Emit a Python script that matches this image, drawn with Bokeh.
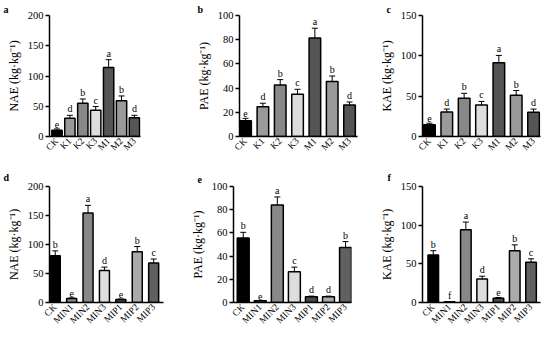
import math
from bokeh.plotting import figure
from bokeh.models import Range1d, FixedTicker, Whisker, TeeHead, ColumnDataSource
from bokeh.layouts import column, row
from bokeh.embed import file_html
from bokeh.resources import INLINE
from bokeh.core.properties import value

# ---------------- data ----------------
cats_top = ["CK", "K1", "K2", "K3", "M1", "M2", "M3"]
cats_bot = ["CK", "MIN1", "MIN2", "MIN3", "MIP1", "MIP2", "MIP3"]

nae_top = [10.5, 30, 55, 43.5, 114, 59, 31]
nae_top_err = [2, 5, 7, 6, 13, 8, 4]
nae_top_sig = ["e", "d", "b", "c", "a", "b", "d"]

pae_top = [13, 24.5, 42.5, 35, 81.5, 45.5, 26]
pae_top_err = [2, 3, 4.5, 4, 8, 4.5, 2.5]
pae_top_sig = ["e", "d", "b", "c", "a", "b", "d"]

kae_top = [14.5, 30.5, 47.5, 39, 91.5, 51, 30]
kae_top_err = [2, 3.5, 6, 4.5, 9, 6, 4]
kae_top_sig = ["e", "d", "b", "c", "a", "b", "d"]

nae_bot = [80.5, 7, 154.5, 55, 5, 87.5, 68]
nae_bot_err = [8.5, 1, 13, 6, 1, 9, 7]
nae_bot_sig = ["b", "e", "a", "d", "e", "b", "c"]

pae_bot = [55.5, 1.5, 84, 26.5, 5, 5, 47.5]
pae_bot_err = [5, 0, 7, 4, 0.5, 0.5, 5]
pae_bot_sig = ["b", "e", "a", "c", "d", "d", "b"]

kae_bot = [61.5, 1, 94, 30.5, 5.5, 67, 52]
kae_bot_err = [5.5, 0, 10, 3.5, 1, 7.5, 4.5]
kae_bot_sig = ["b", "f", "a", "d", "e", "b", "c"]

colors_top = ["#000000", "#9a9a9a", "#888888", "#dddddd", "#555555", "#9a9a9a", "#555555"]
colors_bot = ["#000000", "#888888", "#888888", "#dddddd", "#4a4a4a", "#aaaaaa", "#606060"]

SERIF = "Liberation Serif"


def panel(letter, cats, vals, errs, sigs, colors, ymax, ystep, ylab,
          xr, bw, width, height, bl, br, bt, bb, letter_off):
    n = len(cats)
    xs = list(range(n))
    p = figure(width=width, height=height, output_backend="svg", toolbar_location=None,
               x_range=Range1d(*xr), y_range=Range1d(0, ymax),
               min_border_left=bl, min_border_right=br, min_border_top=bt, min_border_bottom=bb)
    p.outline_line_color = None
    p.background_fill_color = "white"
    p.border_fill_color = "white"
    p.grid.visible = False

    # panel letter as the title
    p.title.text = letter
    p.title.align = "left"
    p.title.offset = letter_off
    p.title.standoff = bt - 14
    p.title.text_font = SERIF
    p.title.text_font_style = "bold"
    p.title.text_font_size = "10px"
    p.title.text_color = "black"

    src = ColumnDataSource(dict(xpos=xs, top=vals, hi=[v + e for v, e in zip(vals, errs)],
                                sig=sigs, fillc=colors))
    p.vbar(x="xpos", top="top", width=bw, bottom=0, fill_color="fillc",
           line_color="black", line_width=1.5, source=src)
    w = Whisker(base="xpos", lower="top", upper="hi", source=src, dimension="height",
                line_color="black", line_width=1,
                upper_head=TeeHead(size=6, line_color="black", line_width=1),
                lower_head=None)
    p.add_layout(w)
    p.text(x="xpos", y="hi", text="sig", source=src, text_align="center",
           text_baseline="bottom", y_offset=-1, text_font=value(SERIF),
           text_font_size="10px", text_color="#000000", text_alpha=1.0)

    # y axis
    ya = p.yaxis[0]
    ya.ticker = FixedTicker(ticks=list(range(0, ymax + 1, ystep)))
    ya.axis_label = ylab
    ya.axis_label_text_font = SERIF
    ya.axis_label_text_font_style = "normal"
    ya.axis_label_text_font_size = "12px"
    ya.axis_label_text_color = "black"
    ya.axis_label_standoff = 4
    ya.major_label_text_font = SERIF
    ya.major_label_text_font_size = "10.5px"
    ya.major_label_text_color = "black"
    ya.major_label_standoff = 2
    ya.major_tick_out = 4
    ya.major_tick_in = 0
    ya.minor_tick_out = 0
    ya.minor_tick_in = 0
    ya.axis_line_width = 1.5
    ya.major_tick_line_width = 1.5

    # x axis
    xa = p.xaxis[0]
    xa.ticker = FixedTicker(ticks=xs)
    xa.major_label_overrides = {i: c for i, c in enumerate(cats)}
    xa.major_label_orientation = math.pi / 4
    xa.major_label_text_font = SERIF
    xa.major_label_text_font_size = "9.5px"
    xa.major_label_text_color = "black"
    xa.major_label_standoff = 3
    xa.major_tick_out = 0
    xa.major_tick_in = 0
    xa.minor_tick_out = 0
    xa.minor_tick_in = 0
    xa.axis_line_width = 1.5
    return p


ylab_n = "NAE (kg·kg⁻¹)"
ylab_p = "PAE (kg·kg⁻¹)"
ylab_k = "KAE (kg·kg⁻¹)"

pa = panel("a", cats_top, nae_top, nae_top_err, nae_top_sig, colors_top, 200, 50, ylab_n,
           (-0.58, 6.47), 0.8, 184, 165, 49, 44, 15, 29, -46)
pb = panel("b", cats_top, pae_top, pae_top_err, pae_top_sig, colors_top, 100, 20, ylab_p,
           (-0.35, 6.46), 0.67, 182, 165, 55, 9, 15, 29, -42)
pc = panel("c", cats_top, kae_top, kae_top_err, kae_top_sig, colors_top, 150, 50, ylab_k,
           (-0.4, 6.4), 0.67, 184, 165, 56, 10, 15, 29, -36)

pd = panel("d", cats_bot, nae_bot, nae_bot_err, nae_bot_sig, colors_bot, 200, 50, ylab_n,
           (-0.35, 6.6), 0.61, 184, 172, 49, 21, 21, 35, -46)
pe = panel("e", cats_bot, pae_bot, pae_bot_err, pae_bot_sig, colors_bot, 100, 20, ylab_p,
           (-0.57, 6.35), 0.7, 182, 172, 49, 15, 21, 35, -36)
pf = panel("f", cats_bot, kae_bot, kae_bot_err, kae_bot_sig, colors_bot, 150, 50, ylab_k,
           (-0.66, 6.58), 0.65, 184, 172, 56, 10, 21, 35, -35)

layout = column(row(pa, pb, pc, spacing=0), row(pd, pe, pf, spacing=0), spacing=0)

open("out.html", "w").write(file_html(layout, INLINE))
